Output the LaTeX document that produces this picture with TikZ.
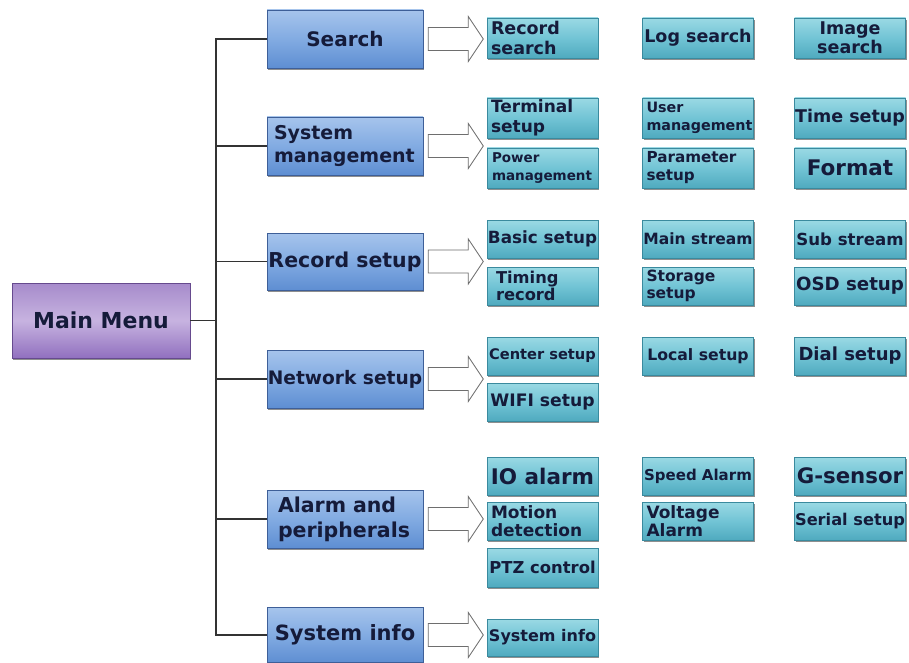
\documentclass[tikz,border=0pt]{standalone}
\usepackage{fontspec}
\setmainfont{DejaVu Sans}
\usetikzlibrary{shadows}
\definecolor{txt}{HTML}{151B3A}
\definecolor{bltop}{HTML}{A6C4EC}
\definecolor{blmid}{HTML}{82ABE2}
\definecolor{blbot}{HTML}{5E8ED2}
\definecolor{bledge}{HTML}{3E5F98}
\definecolor{cytop}{HTML}{9AD9E4}
\definecolor{cymid}{HTML}{72C4D5}
\definecolor{cybot}{HTML}{4FAABF}
\definecolor{cyedge}{HTML}{3A8A9E}
\definecolor{putop}{HTML}{A68BCB}
\definecolor{pumid}{HTML}{C7B3E0}
\definecolor{pubot}{HTML}{9170BF}
\definecolor{puedge}{HTML}{664A8E}
\definecolor{linec}{HTML}{333333}
\definecolor{arrc}{HTML}{6E6E6E}
\newcommand\harrow[1]{\draw[hollow] ([xshift=5pt]#1.east) ++(0,-11.5) -- ++(40,0) -- ++(0,-11)
  -- ++(15,22.5) -- ++(-15,22.5) -- ++(0,-11) -- ++(-40,0) -- cycle;}
\begin{document}
\begin{tikzpicture}[x=1pt,y=-1pt,
  fs/.style args={#1/#2}{font=\bfseries\fontsize{#1}{#2}\selectfont},
  boxbase/.style={rectangle, line width=0.6pt, text=txt,
    inner ysep=0pt, inner xsep=0pt,
    drop shadow={shadow xshift=1.3pt, shadow yshift=-1.8pt, opacity=.55, fill=black!80}},
  lvlone/.style={boxbase, draw=bledge, minimum width=156pt, minimum height=58pt,
    top color=bltop, bottom color=blbot, middle color=blmid, align=center},
  lvlonel/.style={inner xsep=8pt, text width=140pt, align=left},
  lvltwo/.style={boxbase, draw=cyedge, minimum width=111pt, minimum height=39pt,
    top color=cytop, bottom color=cybot, middle color=cymid, align=center},
  lvltwol/.style={inner xsep=4pt, text width=103pt, align=left},
  mainbox/.style={boxbase, draw=puedge, minimum width=178pt, minimum height=75pt,
    top color=putop, bottom color=pubot, middle color=pumid, align=center},
  conn/.style={draw=linec, line width=1.3pt},
  hollow/.style={draw=arrc, line width=0.8pt, fill=white, line join=miter}
]
\useasboundingbox (0,0) rectangle (909,663);
\fill[white] (0,0) rectangle (909,663);

% main menu
\node[mainbox, fs=22/24] (main) at (101,320.5) {Main Menu};

% level one
\node[lvlone, fs=20/22] (search) at (345,39) {Search};
\node[lvlone, lvlonel, inner xsep=7pt, text width=142pt, fs=19/23] (sysm) at (345,146) {System\\management};
\node[lvlone, minimum height=57pt, fs=20.5/22] (rec) at (345,261.5) {Record setup};
\node[lvlone, fs=18.6/22] (net) at (345,379) {Network setup};
\node[lvlone, lvlonel, inner xsep=11pt, text width=134pt, fs=20.5/25] (alarm) at (345,519) {Alarm and\\peripherals};
\node[lvlone, minimum height=55pt, fs=21/22] (sinfo) at (345,635) {System info};

% connectors
\coordinate (trunk) at (216,0);
\draw[conn] (search.west) -- (search.west -| trunk) -- (sinfo.west -| trunk) -- (sinfo.west);
\draw[conn] (main.east) -- (main.east -| trunk);
\draw[conn] (sysm.west -| trunk) -- (sysm.west);
\draw[conn] (rec.west -| trunk) -- (rec.west);
\draw[conn] (net.west -| trunk) -- (net.west);
\draw[conn] (alarm.west -| trunk) -- (alarm.west);

% hollow arrows
\harrow{search}
\harrow{sysm}
\harrow{rec}
\harrow{net}
\harrow{alarm}
\harrow{sinfo}

% level two: search
\node[lvltwo, lvltwol, minimum height=40pt, fs=17.5/19.5] (rs) at (542.5,38) {Record\\search};
\node[lvltwo, minimum height=40pt, fs=17.5/20] (ls) at (698,38) {Log search};
\node[lvltwo, minimum height=40pt, fs=17.5/19] (is) at (850,38) {Image\\search};

% system management
\node[lvltwo, lvltwol, minimum height=40pt, fs=17/19.5] (ts) at (542.5,118) {Terminal\\setup};
\node[lvltwo, lvltwol, minimum height=40pt, fs=14.3/18] (um) at (698,118) {User\\management};
\node[lvltwo, minimum height=40pt, fs=17.5/20] (tms) at (850,118) {Time setup};
\node[lvltwo, lvltwol, minimum height=40pt, fs=13.5/17.5, inner xsep=5pt, text width=101pt] (pm) at (542.5,168) {Power\\management};
\node[lvltwo, lvltwol, minimum height=40pt, fs=15.2/18] (ps) at (698,168) {Parameter\\setup};
\node[lvltwo, minimum height=40pt, fs=21.5/23] (fmt) at (850,168) {Format};

% record setup
\node[lvltwo, minimum height=38pt, fs=16.8/19] (bs) at (542.5,239) {Basic setup};
\node[lvltwo, minimum height=38pt, fs=15.5/18] (ms) at (698,239) {Main stream};
\node[lvltwo, minimum height=38pt, fs=16.6/19] (ss) at (850,239) {Sub stream};
\node[lvltwo, lvltwol, inner xsep=9pt, text width=93pt, minimum height=38pt, fs=16.3/17.5] (tr) at (542.5,286) {Timing\\record};
\node[lvltwo, lvltwol, minimum height=38pt, fs=15.5/16.5] (sts) at (698,286) {Storage\\setup};
\node[lvltwo, minimum height=38pt, fs=18.2/20] (osd) at (850,286) {OSD setup};

% network setup
\node[lvltwo, minimum height=38pt, fs=14.6/17] (cs) at (542.5,356) {Center setup};
\node[lvltwo, minimum height=38pt, fs=15.7/18] (lcs) at (698,356) {Local setup};
\node[lvltwo, minimum height=38pt, fs=18/20] (ds) at (850,356) {Dial setup};
\node[lvltwo, minimum height=38pt, fs=17.2/20] (wf) at (542.5,402) {WIFI setup};

% alarm and peripherals
\node[lvltwo, minimum height=38pt, fs=21.5/23] (io) at (542.5,476) {IO alarm};
\node[lvltwo, minimum height=38pt, fs=15/17] (sa) at (698,476) {Speed Alarm};
\node[lvltwo, minimum height=38pt, fs=21.3/23] (gs) at (850,476) {G-sensor};
\node[lvltwo, lvltwol, minimum height=38pt, fs=17/17.5] (md) at (542.5,521) {Motion\\detection};
\node[lvltwo, lvltwol, minimum height=38pt, fs=17/17.5] (va) at (698,521) {Voltage\\Alarm};
\node[lvltwo, minimum height=38pt, fs=16.2/18] (ser) at (850,521) {Serial setup};
\node[lvltwo, minimum height=39pt, fs=16.4/19] (ptz) at (542.5,567.5) {PTZ control};

% system info
\node[lvltwo, minimum height=37pt, fs=16/18] (si) at (542.5,637.5) {System info};
\end{tikzpicture}
\end{document}
